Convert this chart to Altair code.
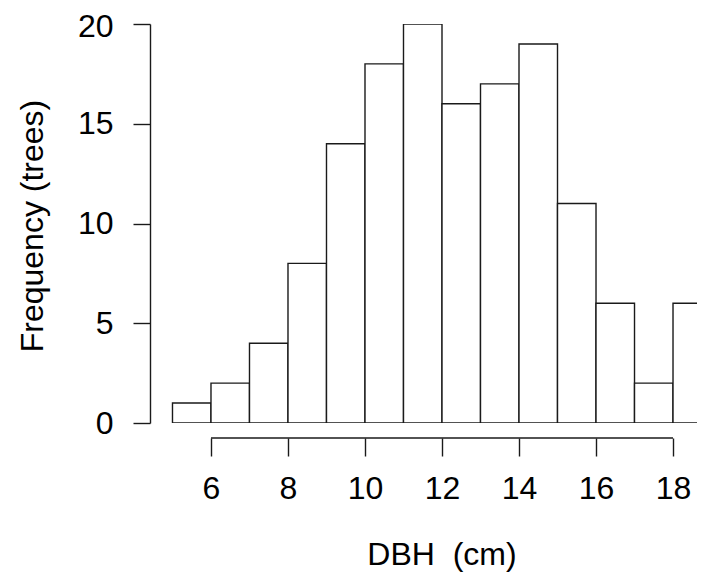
import altair as alt
import pandas as pd

bin_starts = [5, 6, 7, 8, 9, 10, 11, 12, 13, 14, 15, 16, 17, 18]
counts = [1, 2, 4, 8, 14, 18, 20, 16, 17, 19, 11, 6, 2, 6]
x_ticks = [6, 8, 10, 12, 14, 16, 18]
y_ticks = [0, 5, 10, 15, 20]
x_title = "DBH\u00a0 (cm)"
y_title = "Frequency (trees)"

FONT = "Liberation Sans"
INK = "#1a1a1a"

bars_df = pd.DataFrame({
    "start": bin_starts,
    "end": [b + 1 for b in bin_starts],
    "count": counts,
    "zero": [0] * len(counts),
})

xscale = alt.Scale(domain=[4.416, 18.623], nice=False, zero=False)
yscale = alt.Scale(domain=[0, 20], nice=False)

bars = alt.Chart(bars_df).mark_rect(
    fill="white", stroke=INK, strokeWidth=1.4, clip=True
).encode(
    x=alt.X("start:Q", scale=xscale, axis=alt.Axis(
        values=x_ticks, domain=False, grid=False, offset=15, tickSize=18,
        tickColor=INK, tickWidth=1.4, labelFontSize=32, labelFont=FONT,
        labelColor="black", labelPadding=17, labelFlush=False, title=None)),
    x2="end:Q",
    y=alt.Y("count:Q", scale=yscale, axis=alt.Axis(
        values=y_ticks, grid=False, tickSize=17, domainColor=INK,
        domainWidth=1.4, tickColor=INK, tickWidth=1.4, labelFontSize=32,
        labelFont=FONT, labelColor="black", labelPadding=20,
        labelAlign="right", labelBaseline="middle", labelFlush=False,
        labelOffset=alt.expr("datum.value == 20 ? 2 : 0"),
        title=None)),
    y2="zero:Q",
)

axis_df = pd.DataFrame({"a": [x_ticks[0]], "b": [x_ticks[-1]]})
xaxis_line = alt.Chart(axis_df).mark_rule(color=INK, strokeWidth=1.4).encode(
    x="a:Q", x2="b:Q", y=alt.value(414)
)

title_df = pd.DataFrame({"xt": [x_title], "yt": [y_title]})
xt = alt.Chart(title_df).mark_text(
    fontSize=32, font=FONT, color="black", align="center", baseline="alphabetic"
).encode(text="xt:N", x=alt.value(292), y=alt.value(541))
yt = alt.Chart(title_df).mark_text(
    fontSize=32, font=FONT, color="black", align="center",
    baseline="alphabetic", angle=270
).encode(text="yt:N", x=alt.value(-107), y=alt.value(202))

chart = alt.layer(bars, xaxis_line, xt, yt).properties(
    width=547, height=399,
    autosize=alt.AutoSizeParams(type="none"),
    padding={"left": 142, "top": 16, "right": 0, "bottom": 152},
).configure_view(stroke="transparent")

chart.save("out.html", embed_options={"renderer": "svg", "actions": False})
